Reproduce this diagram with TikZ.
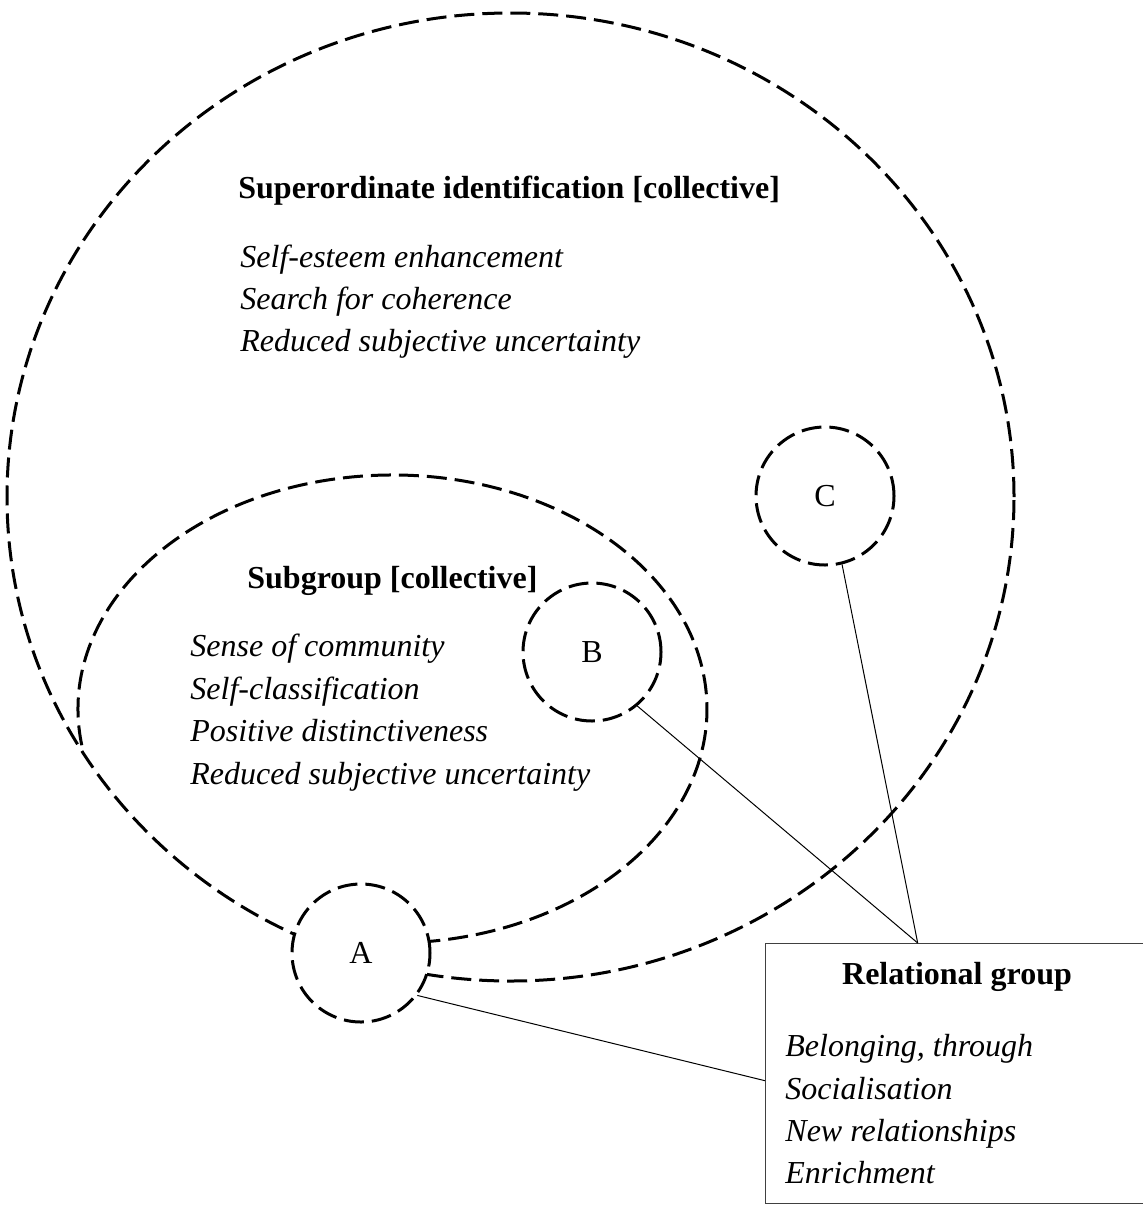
\documentclass[tikz,border=0pt]{standalone}
\usepackage{fontspec}
\setmainfont{Liberation Serif}
\usetikzlibrary{calc,positioning}

\begin{document}
\begin{tikzpicture}[x=0.5pt,y=0.5pt,
    grpline/.style={line width=1.5pt,dash pattern=on 10pt off 4pt},
    grpcircle/.style={draw,grpline,circle,fill=white,minimum size=69pt,inner sep=0pt,font=\fontsize{16}{19}\selectfont},
    link/.style={line width=0.5pt},
    head/.style={anchor=base west,inner sep=0pt,font=\fontsize{16}{19}\selectfont\bfseries},
    item/.style={anchor=base west,inner sep=0pt,font=\fontsize{16}{19}\selectfont\itshape}]
  \useasboundingbox (0,0) rectangle (1142,-1205);
  % superordinate group and subgroup
  \draw[grpline] (510.5,-497) ellipse[x radius=503.5,y radius=484];
  \draw[grpline] (392.5,-709) ++(188.9:314.5 and 234)
    arc[start angle=188.9,end angle=-90,x radius=314.5,y radius=234];
  % relational groups
  \node[grpcircle] (A) at (361,-953) {A};
  \node[grpcircle] (B) at (592,-652) {B};
  \node[grpcircle] (C) at (825,-496) {C};
  \node[draw=black!75,line width=0.7pt,minimum width=190pt,minimum height=130pt,
    anchor=north west] (rel) at (765,-943) {};
  \coordinate (join) at ([xshift=-19pt]rel.north);
  \draw[link] (A.-37) -- ([yshift=-3.5pt]rel.west);
  \draw[link] (B.-50) -- (join);
  \draw[link] (C.-76) -- (join);
  % texts
  \node[head] (super) at (238,-198) {Superordinate identification [collective]};
  \node[item] (super1) at (240,-267) {Self-esteem enhancement};
  \node[item] (super2) at (240,-309) {Search for coherence};
  \node[item] (super3) at (240,-351) {Reduced subjective uncertainty};
  \node[head] (sub) at (247,-588) {Subgroup [collective]};
  \node[item] (sub1) at (190,-656) {Sense of community};
  \node[item] (sub2) at (190,-699) {Self-classification};
  \node[item] (sub3) at (190,-741) {Positive distinctiveness};
  \node[item] (sub4) at (190,-784) {Reduced subjective uncertainty};
  \node[head,anchor=base] (relhead) at (957,-984) {Relational group};
  \node[item] (rel1) at (785,-1056) {Belonging, through};
  \node[item] (rel2) at (785,-1099) {Socialisation};
  \node[item] (rel3) at (785,-1141) {New relationships};
  \node[item] (rel4) at (785,-1183) {Enrichment};
\end{tikzpicture}
\end{document}
